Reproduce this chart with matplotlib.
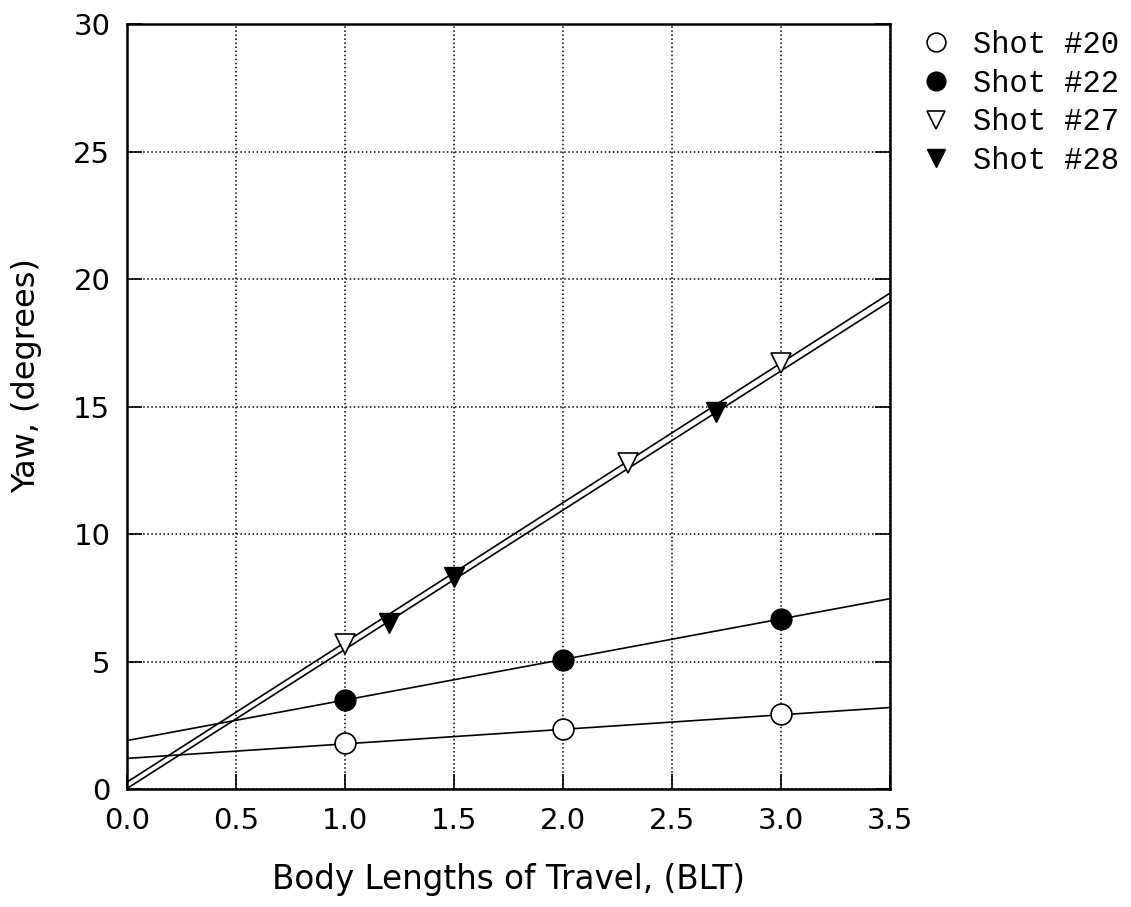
import numpy as np
import matplotlib
matplotlib.use("Agg")
import matplotlib.pyplot as plt

# shot data
shot20_x = [1.0, 2.0, 3.0]
shot20_y = [1.8, 2.35, 2.95]
shot22_x = [1.0, 2.0, 3.0]
shot22_y = [3.5, 5.05, 6.65]
shot27_x = [1.0, 2.3, 3.0]
shot27_y = [5.7, 12.8, 16.7]
shot28_x = [1.2, 1.5, 2.7]
shot28_y = [6.5, 8.3, 14.8]

# fitted lines: (intercept, slope)
fit20 = (1.2, 0.57)
fit22 = (1.9, 1.59)
fit27 = (0.27, 5.48)
fit28 = (0.02, 5.46)

xticks = [0.0, 0.5, 1.0, 1.5, 2.0, 2.5, 3.0, 3.5]
yticks = [0, 5, 10, 15, 20, 25, 30]

fig = plt.figure(figsize=(11.31, 9.07), dpi=100)
ax = fig.add_axes([0.1123, 0.1301, 0.6747, 0.8434])

xs = np.array([0.0, 3.5])
for b, m in [fit20, fit22, fit27, fit28]:
    ax.plot(xs, b + m * xs, color="black", lw=1.2, zorder=2)

ms = 15
h1, = ax.plot(shot20_x, shot20_y, "o", mfc="white", mec="black", mew=1.2, ms=ms, ls="none", zorder=3)
h2, = ax.plot(shot22_x, shot22_y, "o", mfc="black", mec="black", ms=ms, ls="none", zorder=3)
h3, = ax.plot(shot27_x, shot27_y, "v", mfc="white", mec="black", mew=1.2, ms=ms, ls="none", zorder=3)
h4, = ax.plot(shot28_x, shot28_y, "v", mfc="black", mec="black", ms=ms, ls="none", zorder=3)

ax.set_xlim(0, 3.5)
ax.set_ylim(0, 30)
ax.set_xticks(xticks)
ax.set_xticklabels([f"{t:.1f}" for t in xticks])
ax.set_yticks(yticks)
ax.tick_params(direction="in", length=11, width=1.2, labelsize=21, right=True)
ax.tick_params(axis="x", pad=13)
ax.tick_params(axis="y", pad=12)
ax.grid(True, color="black", ls=":", lw=1.1)
for s in ax.spines.values():
    s.set_linewidth(1.8)

ax.set_xlabel("Body Lengths of Travel, (BLT)", fontsize=23.5)
ax.set_ylabel("Yaw, (degrees)", fontsize=23)
ax.xaxis.set_label_coords(0.5, -0.097)
ax.yaxis.set_label_coords(-0.111, 0.54)

leg = ax.legend([h1, h2, h3, h4], ["Shot #20", "Shot #22", "Shot #27", "Shot #28"],
                loc="upper left", bbox_to_anchor=(1.0, 1.028), frameon=False,
                prop={"family": "Liberation Mono", "size": 22},
                handletextpad=0.6, labelspacing=0.28, handlelength=1.2,
                markerscale=0.9)

fig.savefig("out.png", dpi=100)
